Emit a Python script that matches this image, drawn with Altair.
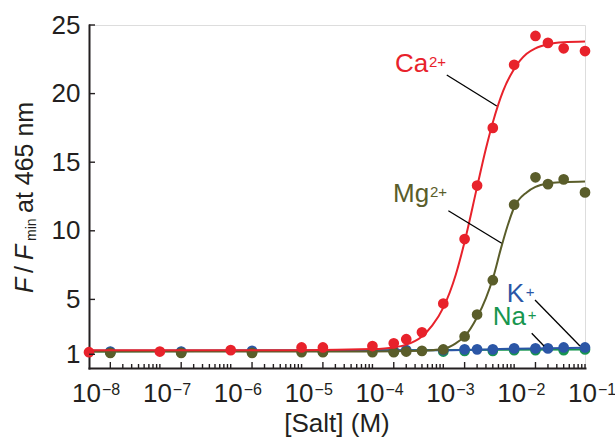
import altair as alt
import pandas as pd

# ---------------------------------------------------------------------------
# Titration data: salt concentration (M) vs. emission ratio F / Fmin at 465 nm
# ---------------------------------------------------------------------------
ca_conc = [1e-8, 1e-7, 1e-6, 1e-5, 2e-5, 1e-4, 2e-4, 3e-4, 5e-4, 1e-3,
           2e-3, 3e-3, 5e-3, 1e-2, 2e-2, 3e-2, 5e-2, 1e-1]
ca_ratio = [1.15, 1.2, 1.3, 1.5, 1.5, 1.6, 1.8, 2.1, 2.6, 4.7,
            9.4, 13.3, 17.5, 22.1, 24.2, 23.7, 23.3, 23.1]

mg_conc = [2e-8, 2e-7, 2e-6, 1e-5, 2e-5, 1e-4, 2e-4, 3e-4, 5e-4, 1e-3,
           2e-3, 3e-3, 5e-3, 1e-2, 2e-2, 3e-2, 5e-2, 1e-1]
mg_ratio = [1.1, 1.1, 1.1, 1.15, 1.15, 1.15, 1.15, 1.2, 1.25, 1.35,
            2.3, 3.9, 6.4, 11.9, 13.9, 13.4, 13.75, 12.8]

k_conc = [2e-8, 2e-7, 2e-6, 2e-5, 2e-4, 3e-4, 1e-3, 2e-3, 3e-3, 5e-3,
          1e-2, 2e-2, 3e-2, 5e-2, 1e-1]
k_ratio = [1.2, 1.2, 1.25, 1.25, 1.25, 1.3, 1.3, 1.36, 1.36, 1.36,
           1.43, 1.43, 1.43, 1.5, 1.5]

na_conc = [2e-8, 2e-7, 2e-6, 2e-5, 2e-4, 1e-3, 2e-3, 5e-3, 1e-2, 2e-2, 5e-2, 1e-1]
na_ratio = [1.15, 1.15, 1.15, 1.2, 1.2, 1.2, 1.25, 1.25, 1.3, 1.3, 1.3, 1.35]

# Fitted binding curves, sampled along the concentration axis
ca_fit_conc = [1e-8, 1e-5, 1e-4, 2e-4, 3e-4, 5e-4, 7e-4, 1e-3, 1.5e-3, 2e-3,
               3e-3, 4e-3, 5e-3, 7e-3, 1e-2, 1.5e-2, 2e-2, 3e-2, 5e-2, 1e-1]
ca_fit_ratio = [1.3, 1.3, 1.38, 1.5, 1.7, 2.3, 3.1, 4.4, 6.8, 9.2,
                13.2, 16.0, 17.9, 20.2, 21.8, 22.9, 23.3, 23.6, 23.75, 23.8]

mg_fit_conc = [1e-8, 1e-4, 5e-4, 1e-3, 1.5e-3, 2e-3, 3e-3, 4e-3, 5e-3, 6.5e-3,
               8e-3, 1e-2, 1.5e-2, 2e-2, 3e-2, 5e-2, 1e-1]
mg_fit_ratio = [1.2, 1.2, 1.25, 1.4, 1.8, 2.3, 3.7, 5.1, 6.5, 8.7,
                10.3, 11.7, 12.8, 13.2, 13.45, 13.55, 13.6]

k_fit_conc = [1e-8, 1e-3, 1e-2, 1e-1]
k_fit_ratio = [1.25, 1.3, 1.4, 1.47]

na_fit_conc = [1e-8, 1e-1]
na_fit_ratio = [1.2, 1.35]

# Ion labels: base text, superscript charge, anchor and leader line
label_ion = ["Ca2+", "Mg2+", "K+", "Na+"]
label_base = ["Ca", "Mg", "K", "Na"]
label_charge = ["2+", "2+", "+", "+"]
label_conc = [2.08e-4, 1.95e-4, 7.85e-3, 4.99e-3]
label_ratio = [21.6, 12.1, 4.83, 3.13]
leader_conc = [1.12e-3, 1.18e-3, 1.97e-2, 1.77e-2]
leader_ratio = [21.36, 11.46, 4.96, 2.53]
leader_conc2 = [5.68e-3, 6.67e-3, 8.49e-2, 2.64e-2]
leader_ratio2 = [19.1, 9.09, 1.6, 1.6]

# Axis annotations
y_tick_values = [1, 5, 10, 15, 20, 25]
x_label_exponents = [-8, -7, -6, -5, -4, -3, -2, -1]
decades = [-8, -7, -6, -5, -4, -3, -2]

ion_order = ["Na+", "K+", "Mg2+", "Ca2+"]
ion_colors = ["#17964f", "#2b56a6", "#5a5d2a", "#e8222b"]

INK = "#231f20"
FONT = "Liberation Sans"
W, H = 496, 343

color_scale = alt.Scale(domain=ion_order, range=ion_colors)

x_enc = alt.X(
    "conc:Q",
    scale=alt.Scale(type="log", domain=[1e-8, 1e-1], nice=False),
    axis=alt.Axis(labels=False, ticks=False, grid=False, title=None,
                  domainColor=INK, domainWidth=2, domainCap="square"),
)
y_enc = alt.Y(
    "ratio:Q",
    scale=alt.Scale(domain=[0, 25], nice=False, zero=False),
    axis=alt.Axis(values=y_tick_values, ticks=False, grid=False, title=None,
                  domainColor=INK, domainWidth=2, domainCap="square",
                  labelFont=FONT, labelFontSize=26, labelColor=INK,
                  labelPadding=9),
)


def frame(conc, ratio, ion):
    return pd.DataFrame({"conc": conc, "ratio": ratio, "ion": ion})


points = pd.concat([
    frame(na_conc, na_ratio, "Na+"),
    frame(k_conc, k_ratio, "K+"),
    frame(mg_conc, mg_ratio, "Mg2+"),
    frame(ca_conc, ca_ratio, "Ca2+"),
])

fits = pd.concat([
    frame(na_fit_conc, na_fit_ratio, "Na+"),
    frame(k_fit_conc, k_fit_ratio, "K+"),
    frame(mg_fit_conc, mg_fit_ratio, "Mg2+"),
    frame(ca_fit_conc, ca_fit_ratio, "Ca2+"),
])

layers = []

# fitted curves, then dots; one ion at a time so Ca2+ ends on top
for ion in ion_order:
    layers.append(
        alt.Chart(fits[fits["ion"] == ion])
        .mark_line(strokeWidth=2, interpolate="monotone")
        .encode(x=x_enc, y=y_enc,
                color=alt.Color("ion:N", scale=color_scale, legend=None))
    )
    layers.append(
        alt.Chart(points[points["ion"] == ion])
        .mark_circle(size=115, opacity=1)
        .encode(x=x_enc, y=y_enc,
                color=alt.Color("ion:N", scale=color_scale, legend=None))
    )

# inward tick marks on the x axis: long at 2x10^k, short at 3..10 x 10^k
long_ticks = pd.DataFrame({"conc": [2 * 10.0 ** k for k in decades]})
short_ticks = pd.DataFrame(
    {"conc": [n * 10.0 ** k for k in decades for n in range(3, 11)]}
)
layers.append(
    alt.Chart(long_ticks).mark_rule(color=INK, strokeWidth=1.4)
    .encode(x=x_enc, y=alt.value(H), y2=alt.value(H - 6))
)
layers.append(
    alt.Chart(short_ticks).mark_rule(color=INK, strokeWidth=1.4)
    .encode(x=x_enc, y=alt.value(H), y2=alt.value(H - 4))
)

# inward tick marks on the y axis
y_ticks = pd.DataFrame({"ratio": y_tick_values})
layers.append(
    alt.Chart(y_ticks).mark_rule(color=INK, strokeWidth=1.4)
    .encode(y=y_enc, x=alt.value(0), x2=alt.value(6))
)

# x tick labels as 10 with a superscript exponent
x_labels = pd.DataFrame({
    "conc": [10.0 ** e for e in x_label_exponents],
    "base": ["10"] * len(x_label_exponents),
    "exp": ["\u2212" + str(-e) for e in x_label_exponents],
})
layers.append(
    alt.Chart(x_labels)
    .mark_text(font=FONT, fontSize=26, color=INK, align="right",
               baseline="alphabetic", dx=12)
    .encode(x=x_enc, y=alt.value(H + 34), text="base:N")
)
layers.append(
    alt.Chart(x_labels)
    .mark_text(font=FONT, fontSize=16, color=INK, align="left",
               baseline="alphabetic", dx=13)
    .encode(x=x_enc, y=alt.value(H + 27), text="exp:N")
)

# ion labels with leader lines
labels = pd.DataFrame({
    "ion": label_ion, "base": label_base, "charge": label_charge,
    "conc": label_conc, "ratio": label_ratio,
})
leaders = pd.DataFrame({
    "conc": leader_conc, "ratio": leader_ratio,
    "conc2": leader_conc2, "ratio2": leader_ratio2,
})
layers.append(
    alt.Chart(leaders).mark_rule(color="#000000", strokeWidth=1.3)
    .encode(x=x_enc, y=y_enc, x2="conc2:Q", y2="ratio2:Q")
)
layers.append(
    alt.Chart(labels)
    .mark_text(font=FONT, fontSize=26, align="left", baseline="alphabetic")
    .encode(x=x_enc, y=y_enc, text="base:N",
            color=alt.Color("ion:N", scale=color_scale, legend=None))
)
charge_dx = {"Ca2+": 34, "Mg2+": 37, "K+": 19, "Na+": 35}
for ion in label_ion:
    layers.append(
        alt.Chart(labels[labels["ion"] == ion])
        .mark_text(font=FONT, fontSize=15, align="left", baseline="alphabetic",
                   dx=charge_dx[ion], dy=-5)
        .encode(x=x_enc, y=y_enc, text="charge:N",
                color=alt.Color("ion:N", scale=color_scale, legend=None))
    )

# axis titles
one = alt.Data(values=[{"k": 0}])
layers.append(
    alt.Chart(one)
    .mark_text(text="[Salt] (M)", font=FONT, fontSize=26, color=INK,
               align="center", baseline="alphabetic")
    .encode(x=alt.value(W / 2), y=alt.value(H + 64))
)
title_parts = [
    ("F", "italic", 25, 0, 0),
    ("/", "normal", 25, 20, 0),
    ("F", "italic", 25, 33, 0),
    ("min", "normal", 14, 52, 3),
    ("at 465 nm", "normal", 25, 80, 0),
]
for txt, style, size, dx, dy in title_parts:
    layers.append(
        alt.Chart(one)
        .mark_text(text=txt, font=FONT, fontStyle=style, fontSize=size,
                   color=INK, align="left", baseline="alphabetic",
                   angle=270, dx=dx, dy=dy)
        .encode(x=alt.value(-56), y=alt.value(268))
    )

chart = (
    alt.layer(*layers)
    .properties(width=W, height=H,
                autosize=alt.AutoSizeParams(type="none"),
                padding={"left": 89, "top": 25, "right": 30, "bottom": 73})
    .configure_view(stroke=None)
    .configure(background="#ffffff")
)

chart.save("out.html", embed_options={"renderer": "svg", "actions": False})
